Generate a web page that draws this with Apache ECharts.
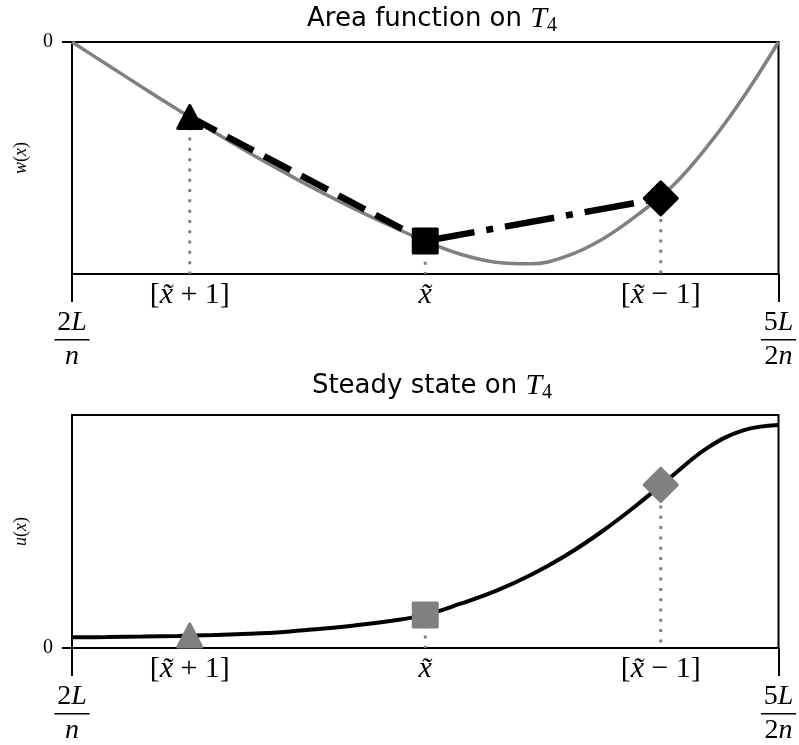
<!DOCTYPE html>
<html>
<head>
<meta charset="utf-8">
<script src="https://cdn.jsdelivr.net/npm/echarts@6/dist/echarts.min.js"></script>
<style>
  html, body { margin: 0; padding: 0; background: #fff; }
  #chart { width: 799px; height: 745px; }
</style>
</head>
<body>
<div id="chart"></div>
<script>
// Horizontal positions are the interval [2L/n, 5L/2n] rescaled to [0, 1].

// Special points [x~+1], x~, [x~-1]
const markerX = [1 / 6, 1 / 2, 5 / 6];
const markerLabels = ['[x\u0303 + 1]', 'x\u0303', '[x\u0303 \u2212 1]'];
const markerShapes = ['triangle', 'rect', 'diamond'];

// Endpoint tick labels (fractions)
const endX = [0, 1];
const endNumerators = [['2', 'L'], ['5', 'L']];
const endDenominators = [['', 'n'], ['2', 'n']];

// Sample positions shared by both curves
const sampleX = [0, 0.05, 0.10, 0.15, 0.20, 0.25, 0.30, 0.35, 0.40, 0.45, 0.50,
                 0.55, 0.60, 0.65, 0.70, 0.75, 0.80, 0.85, 0.90, 0.95, 1];

// Area function w(x) (top panel, w = 0 at both ends)
const wY = [0, -0.098, -0.196, -0.292, -0.386, -0.476, -0.561, -0.643, -0.719, -0.791, -0.858,
            -0.915, -0.949, -0.956, -0.923, -0.851, -0.746, -0.621, -0.447, -0.239, 0];
const wMarkers = [-0.323, -0.858, -0.674];

// Steady state u(x) (bottom panel)
const uY = [0.046, 0.047, 0.049, 0.052, 0.056, 0.061, 0.069, 0.082, 0.097, 0.116, 0.142,
            0.190, 0.245, 0.314, 0.399, 0.500, 0.615, 0.740, 0.860, 0.934, 0.957];
const uMarkers = [0.054, 0.142, 0.700];

const SERIF = 'Liberation Serif';
const SANS = 'DejaVu Sans';
const GRAY = '#808080';

const zip = (a, b) => a.map((v, i) => [v, b[i]]);

// rich-text styles shared by the math-like labels
const mathRich = {
  b: { fontFamily: SERIF, fontSize: 30, color: '#000' },
  i: { fontFamily: SERIF, fontSize: 30, fontStyle: 'italic', color: '#000' },
  num: { fontFamily: SERIF, fontSize: 28, color: '#000', padding: [0, 0, 2, 0] },
  numi: { fontFamily: SERIF, fontSize: 28, fontStyle: 'italic', color: '#000', padding: [0, 0, 2, 0] },
  bar: { width: 35, height: 1.6, backgroundColor: '#000' },
  den: { fontFamily: SERIF, fontSize: 28, color: '#000', padding: [2, 0, 0, 0] },
  deni: { fontFamily: SERIF, fontSize: 28, fontStyle: 'italic', color: '#000', padding: [2, 0, 0, 0] }
};

function markerLabel(v) {
  const k = markerX.findIndex(m => Math.abs(m - v) < 1e-6);
  if (k < 0) return '';
  return '{b|' + markerLabels[k].replace('x\u0303', '}{i|x\u0303}{b|') + '}';
}

function fractionLabel(v) {
  const k = endX.findIndex(m => Math.abs(m - v) < 1e-6);
  if (k < 0) return '';
  const n = endNumerators[k], d = endDenominators[k];
  return '{num|' + n[0] + '}{numi|' + n[1] + '}\n{bar|}\n' +
         (d[0] ? '{den|' + d[0] + '}' : '') + '{deni|' + d[1] + '}';
}

const blackLine = { color: '#000', width: 2 };

function xAxesFor(g) {
  return [
    {
      gridIndex: g, type: 'value', min: 0, max: 1, interval: 1, position: 'bottom',
      axisLine: { onZero: false, lineStyle: blackLine },
      axisTick: { show: true, length: 28, lineStyle: blackLine },
      splitLine: { show: false },
      axisLabel: { margin: 35, formatter: fractionLabel, rich: mathRich }
    },
    {
      gridIndex: g, type: 'value', min: 0, max: 1, position: 'bottom', offset: 0,
      axisLine: { show: false, onZero: false },
      axisTick: { show: false },
      splitLine: { show: false },
      axisLabel: { customValues: markerX, margin: 6, formatter: markerLabel, rich: mathRich }
    }
  ];
}

function yAxisFor(g, min, max, fn) {
  return {
    gridIndex: g, type: 'value', min: min, max: max, interval: 1,
    axisLine: { show: true, onZero: false, lineStyle: blackLine },
    axisTick: { show: true, length: 10, customValues: [0], lineStyle: blackLine },
    axisLabel: {
      customValues: [0], margin: 19, formatter: v => (v === 0 ? '{z|0}' : ''),
      rich: { z: { fontFamily: SERIF, fontSize: 20, color: '#000' } }
    },
    splitLine: { show: false },
    name: '{i|' + fn + '}{r|(}{i|x}{r|)}',
    nameLocation: 'middle', nameGap: 42, nameRotate: 90,
    nameTextStyle: {
      rich: {
        i: { fontFamily: SERIF, fontStyle: 'italic', fontSize: 18, color: '#000' },
        r: { fontFamily: SERIF, fontSize: 18, color: '#000' }
      }
    }
  };
}

function titleFor(text, top) {
  return {
    text: '{s|' + text + ' }{t|T}{sub|4}',
    left: 427, top: top, textAlign: 'center',
    textStyle: {
      fontWeight: 'normal',
      rich: {
        s: { fontFamily: SANS, fontSize: 26, fontWeight: 'normal', color: '#000', lineHeight: 30 },
        t: { fontFamily: SERIF, fontStyle: 'italic', fontWeight: 'normal', fontSize: 30, color: '#000', lineHeight: 30 },
        sub: { fontFamily: SERIF, fontWeight: 'normal', fontSize: 20, color: '#000', lineHeight: 20, padding: [14, 0, 0, 0] }
      }
    }
  };
}

// vertical dotted drop lines from each special point down to the axis
function drops(xIdx, yIdx, ys, base) {
  return markerX.map((x, i) => ({
    type: 'line', xAxisIndex: xIdx, yAxisIndex: yIdx,
    data: [[x, ys[i]], [x, base]],
    symbol: 'none', silent: true, z: 3,
    lineStyle: { color: GRAY, width: 3, type: [3, 7.3], cap: 'butt' }
  }));
}

function markers(xIdx, yIdx, ys, color) {
  return {
    type: 'scatter', xAxisIndex: xIdx, yAxisIndex: yIdx, z: 6,
    data: markerX.map((x, i) => ({
      value: [x, ys[i]],
      symbol: markerShapes[i],
      symbolSize: markerShapes[i] === 'diamond' ? [33, 33] : (markerShapes[i] === 'triangle' ? [24, 23] : [24, 24])
    })),
    itemStyle: { color: color, borderColor: color, borderWidth: 3, borderJoin: 'round', opacity: 1 }
  };
}

const option = {
  animation: false,
  backgroundColor: '#fff',
  title: [titleFor('Area function on', -1), titleFor('Steady state on', 366)],
  grid: [
    { left: 72, right: 17, top: 42, height: 232, show: true, borderColor: '#000', borderWidth: 2 },
    { left: 72, right: 17, top: 415, height: 233, show: true, borderColor: '#000', borderWidth: 2 }
  ],
  xAxis: [...xAxesFor(0), ...xAxesFor(1)],
  yAxis: [yAxisFor(0, -1, 0, 'w'), yAxisFor(1, 0, 1, 'u')],
  series: [
    // top panel
    {
      type: 'line', xAxisIndex: 0, yAxisIndex: 0, data: zip(sampleX, wY),
      smooth: 0.4, symbol: 'none', z: 2,
      lineStyle: { color: GRAY, width: 3.5 }
    },
    ...drops(0, 0, wMarkers, -1),
    {
      type: 'line', xAxisIndex: 0, yAxisIndex: 0, symbol: 'none', z: 4,
      data: [[markerX[0], wMarkers[0]], [markerX[1], wMarkers[1]]],
      lineStyle: { color: '#000', width: 6.5, type: [30, 12], cap: 'butt' }
    },
    {
      type: 'line', xAxisIndex: 0, yAxisIndex: 0, symbol: 'none', z: 4,
      data: [[markerX[1], wMarkers[1]], [markerX[2], wMarkers[2]]],
      lineStyle: { color: '#000', width: 6.5, type: [50, 12, 7, 12], cap: 'butt' }
    },
    markers(0, 0, wMarkers, '#000'),
    // bottom panel
    {
      type: 'line', xAxisIndex: 2, yAxisIndex: 1, data: zip(sampleX, uY),
      smooth: 0.4, symbol: 'none', z: 2,
      lineStyle: { color: '#000', width: 4 }
    },
    ...drops(2, 1, uMarkers, 0),
    markers(2, 1, uMarkers, GRAY)
  ]
};

const chart = echarts.init(document.getElementById('chart'), null, { renderer: 'canvas' });
chart.setOption(option);
</script>
</body>
</html>
